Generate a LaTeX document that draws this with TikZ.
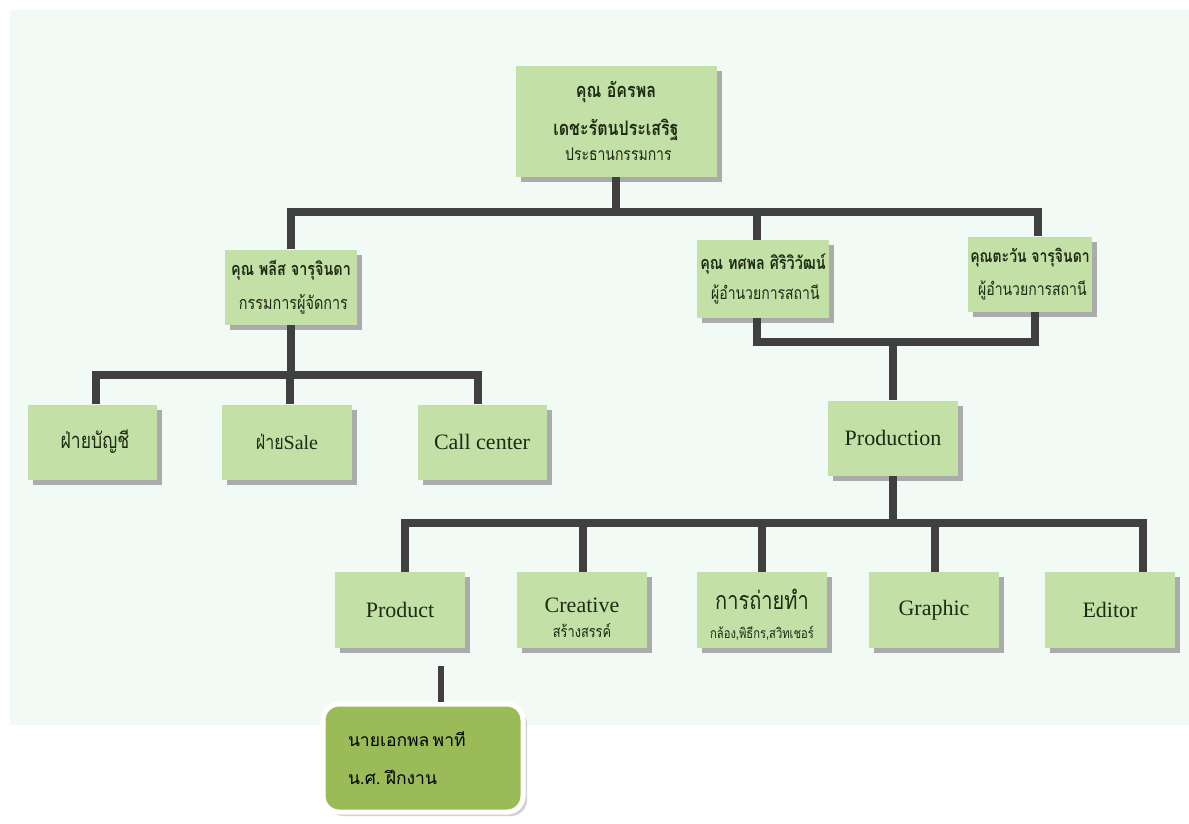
\documentclass[tikz,border=0pt]{standalone}
\usepackage{fontspec}
\setmainfont{Liberation Serif}
\newfontfamily\thai[Script=Thai,FakeStretch=0.8]{Loma}
\newfontfamily\thaisans[Script=Thai]{Loma}
\usetikzlibrary{shadows,calc}
\definecolor{panel}{HTML}{F2FAF6}
\definecolor{boxg}{HTML}{C3E0A6}
\definecolor{linec}{HTML}{404040}
\definecolor{olivebox}{HTML}{9BBB59}
\definecolor{txt}{HTML}{1E2A14}
\newcommand{\fs}[1]{\fontsize{#1}{#1}\selectfont}
\begin{document}
\begin{tikzpicture}[x=1pt,y=-1pt,
  box/.style={fill=boxg, draw=none, align=center, text=txt, inner sep=2pt,
    minimum width=130, minimum height=76,
    drop shadow={shadow xshift=5pt, shadow yshift=-5pt, fill=black!40, opacity=0.8}},
  conn/.style={draw=linec, line width=7.5pt, line join=miter},
  intern/.style={fill=olivebox, draw=white, line width=5pt, rounded corners=16pt,
    minimum width=200, minimum height=108, text width=150, align=left, inner sep=0pt,
    drop shadow={shadow xshift=4pt, shadow yshift=-4pt, fill=black!35, rounded corners=16pt}}]
\useasboundingbox (0,0) rectangle (1189,823);
\fill[panel] (10,10) rectangle (1189,725);

% nodes
\node[box, minimum width=201, minimum height=111] (ceo) at (616,121)
  {\thai\fs{20}\bfseries คุณ อัครพล\\[16pt]\thai\fs{20}\bfseries เดชะรัตนประเสริฐ\\[6pt]\thai\fs{17.5} ประธานกรรมการ};
\node[box, minimum width=132, minimum height=75] (md) at (291,287)
  {\thai\fs{18}\bfseries คุณ พลีส จารุจินดา\\[13pt]\thai\fs{18} กรรมการผู้จัดการ};
\node[box, minimum width=132, minimum height=78] (dr1) at (763,279)
  {\thai\fs{18}\bfseries คุณ ทศพล ศิริวิวัฒน์\\[10pt]\thai\fs{17.5} ผู้อำนวยการสถานี};
\node[box, minimum width=124, minimum height=75] (dr2) at (1030,274)
  {\thai\fs{17.5}\bfseries คุณตะวัน จารุจินดา\\[12pt]\thai\fs{17.5} ผู้อำนวยการสถานี};

\node[box, minimum width=129, minimum height=75] (acc) at (92,442) {\thai\fs{22} ฝ่ายบัญชี};
\node[box, minimum width=130, minimum height=75] (sale) at (287,442) {{\thai\fs{20}ฝ่าย}\fs{20}Sale};
\node[box, minimum width=129, minimum height=75] (cc) at (482,442) {\fs{22}Call center};

\node[box, minimum width=130, minimum height=75] (prodn) at (893,438) {\fs{22}Production};

\node[box] (prod) at (400,610) {\fs{22}Product};
\node[box] (cr) at (582,610) {\rule{0pt}{30pt}\fs{22}Creative\\[10pt]\thai\fs{16}สร้างสรรค์};
\node[box] (sh) at (762,610) {\rule{0pt}{30pt}\thai\fs{25}การถ่ายทำ\\[15pt]\thai\fs{14}กล้อง,พิธีกร,สวิทเชอร์};
\node[box] (gr) at (934,610) {\fs{22}Graphic};
\node[box] (ed) at (1110,610) {\fs{22}Editor};

\node[intern] (int) at (423,758)
  {\thaisans\fs{17.5}นายเอกพล พาที\\[23pt]\thaisans\fs{17.5}น.ศ. ฝึกงาน};

% connectors
\coordinate (bar1) at (0,212);
\coordinate (bar2) at (0,342);
\coordinate (bar3) at (0,523);
\coordinate (bar4) at (0,375);
\draw[conn] (ceo.south) -- (ceo.south |- bar1);
\draw[conn] (md.north) |- ([xshift=8]dr2.north |- bar1) -- ([xshift=8]dr2.north);
\draw[conn] ([xshift=-6]dr1.north |- bar1) -- ([xshift=-6]dr1.north);

\draw[conn] (md.south) -- (md.south |- bar4);
\draw[conn] ([xshift=4]acc.north) |- ([xshift=-4]cc.north |- bar4) -- ([xshift=-4]cc.north);
\draw[conn] ([xshift=3]sale.north |- bar4) -- ([xshift=3]sale.north);

\draw[conn] ([xshift=-6]dr1.south) |- ([xshift=5]dr2.south |- bar2) -- ([xshift=5]dr2.south);
\draw[conn] (prodn.north |- bar2) -- (prodn.north);

\draw[conn] (prodn.south) -- (prodn.south |- bar3);
\draw[conn] ([xshift=5]prod.north) |- ([xshift=33]ed.north |- bar3) -- ([xshift=33]ed.north);
\draw[conn] ([xshift=1]cr.north |- bar3) -- ([xshift=1]cr.north);
\draw[conn] (sh.north |- bar3) -- (sh.north);
\draw[conn] ([xshift=1]gr.north |- bar3) -- ([xshift=1]gr.north);

\coordinate (stub) at (441,666);
\draw[conn, line width=6pt] (stub) -- (int.north -| stub);
\end{tikzpicture}
\end{document}
